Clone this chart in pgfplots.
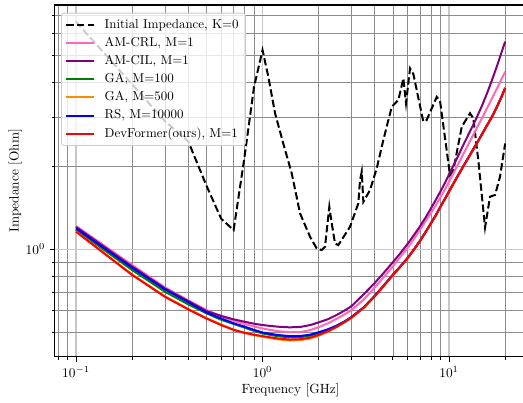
\documentclass[border=0pt]{standalone}
\usepackage{pgfplots}
\pgfplotsset{compat=1.18}
\definecolor{cpink}{RGB}{255,105,180}
\definecolor{cpurple}{RGB}{128,0,128}
\definecolor{cgreen}{RGB}{0,128,0}
\definecolor{corange}{RGB}{255,140,0}
\definecolor{cblue}{RGB}{0,0,255}
\definecolor{cred}{RGB}{255,0,0}
\pgfplotstableread{
f Z
0.1 6.63
0.2 3.94
0.3 2.90
0.4 2.45
0.5 1.70
0.6 1.29
0.7 1.174
0.8 2.15
0.9 3.85
1.0 5.24
1.074 4.20
1.167 3.10
1.292 2.41
1.434 1.88
1.589 1.349
1.798 1.11
1.952 1.008
2.077 0.994
2.163 1.022
2.281 1.425
2.350 1.241
2.447 1.051
2.549 1.036
2.946 1.207
3.264 1.466
3.333 1.779
3.404 1.906
3.472 1.485
3.771 1.637
4.096 1.961
4.443 2.48
4.93 3.27
5.35 3.46
5.69 4.14
5.88 3.37
6.18 4.50
6.44 4.29
7.28 2.89
7.59 2.93
8.59 3.55
8.95 3.43
10.12 1.855
10.55 1.93
11.70 2.77
12.96 3.10
13.50 2.97
14.35 2.10
15.60 1.199
16.59 1.549
17.65 1.571
18.77 1.83
20.0 2.41
}\initial
\pgfplotstableread{
f    crl   cil   ga100 ga500 rs    dev
0.1  1.214 1.204 1.177 1.160 1.191 1.158
0.2  0.878 0.867 0.842 0.811 0.858 0.808
0.3  0.729 0.722 0.703 0.677 0.717 0.674
0.4  0.655 0.650 0.633 0.609 0.645 0.607
0.5  0.604 0.599 0.588 0.565 0.592 0.563
0.6  0.574 0.575 0.557 0.535 0.563 0.533
0.7  0.552 0.559 0.538 0.513 0.541 0.512
0.8  0.538 0.548 0.522 0.499 0.526 0.500
0.9  0.527 0.539 0.508 0.490 0.512 0.492
1.0  0.518 0.533 0.497 0.484 0.501 0.486
1.2  0.507 0.526 0.486 0.4735 0.491 0.477
1.4  0.502 0.523 0.481 0.469 0.486 0.4725
1.6  0.503 0.525 0.482 0.4705 0.487 0.474
1.8  0.511 0.533 0.488 0.477 0.492 0.480
2.0  0.524 0.545 0.499 0.488 0.502 0.491
2.25 0.541 0.560 0.513 0.505 0.515 0.507
2.5  0.562 0.580 0.529 0.524 0.531 0.526
2.75 0.582 0.601 0.548 0.545 0.549 0.546
3    0.604 0.624 0.569 0.566 0.570 0.567
3.5  0.660 0.690 0.618 0.616 0.619 0.617
4    0.729 0.757 0.679 0.677 0.680 0.678
4.5  0.799 0.827 0.744 0.742 0.745 0.743
5    0.869 0.899 0.809 0.807 0.810 0.808
5.5  0.943 0.971 0.869 0.867 0.870 0.868
6    1.012 1.047 0.931 0.929 0.932 0.930
6.5  1.094 1.129 1.001 0.999 1.002 1.000
7    1.178 1.213 1.075 1.073 1.076 1.074
7.5  1.265 1.305 1.156 1.154 1.157 1.155
8    1.352 1.405 1.242 1.240 1.243 1.241
8.5  1.445 1.510 1.329 1.327 1.330 1.328
9    1.543 1.620 1.426 1.424 1.427 1.425
9.5  1.646 1.735 1.520 1.518 1.521 1.519
10   1.755 1.865 1.618 1.616 1.619 1.617
11   1.986 2.120 1.814 1.812 1.815 1.813
12   2.224 2.402 2.008 2.006 2.009 2.007
13   2.468 2.676 2.201 2.199 2.202 2.200
14   2.717 2.968 2.397 2.395 2.398 2.396
15   2.972 3.292 2.598 2.596 2.599 2.597
16   3.236 3.662 2.807 2.805 2.808 2.806
17   3.508 4.084 3.011 3.009 3.012 3.010
18   3.785 4.552 3.251 3.249 3.252 3.250
19   4.080 5.072 3.521 3.519 3.522 3.520
20   4.380 5.620 3.821 3.819 3.822 3.820
}\curves
\begin{document}
\begin{tikzpicture}
\begin{axis}[
  scale only axis,
  width=354pt, height=263.8pt,
  at={(0,0)}, anchor=south west,
  xmode=log, ymode=log,
  xmin=0.0767, xmax=26.06,
  ymin=0.4095, ymax=7.62,
  xtick={0.1,1,10}, ytick={1},
  minor xtick={0.08,0.09,0.2,0.3,0.4,0.5,0.6,0.7,0.8,0.9,2,3,4,5,6,7,8,9,20},
  minor ytick={0.5,0.6,0.7,0.8,0.9,2,3,4,5,6,7},
  grid=both,
  major grid style={black!22, line width=0.9pt},
  minor grid style={black!45, line width=0.5pt},
  tick align=outside, tick pos=left,
  major tick length=3.6pt, minor tick length=2.1pt,
  every tick/.style={black, line width=0.6pt},
  axis line style={line width=0.8pt},
  xlabel={Frequency [GHz]},
  ylabel={Impedance [Ohm]},
  x label style={at={(axis description cs:0.5,-0.0938)}, anchor=center},
  y label style={at={(axis description cs:-0.0831,0.5)}, anchor=center},
  legend cell align=left,
  legend style={at={(0,1)}, anchor=north west, xshift=4.9pt, yshift=-5.8pt,
    draw=black!20, line width=0.6pt, rounded corners=2pt,
    fill=white, fill opacity=0.8, draw opacity=1, text opacity=1,
    inner xsep=3pt, inner ysep=2pt, row sep=0pt,
    font=\fontsize{9.7}{11.5}\selectfont,
    nodes={text height=7pt, text depth=2pt, inner ysep=2.3pt}},
  legend image code/.code={\draw[#1] (0pt,0pt) -- (21pt,0pt); \path (25.9pt,0pt);},
]
\addplot[black, line width=1.5pt, dash pattern=on 5.55pt off 2.4pt] table[x=f, y=Z] {\initial};
\addlegendentry{Initial Impedance, K=0}
\addplot[cpink, line width=1.5pt] table[x=f, y=crl] {\curves};
\addlegendentry{AM-CRL, M=1}
\addplot[cpurple, line width=1.5pt] table[x=f, y=cil] {\curves};
\addlegendentry{AM-CIL, M=1}
\addplot[cgreen, line width=1.5pt] table[x=f, y=ga100] {\curves};
\addlegendentry{GA, M=100}
\addplot[corange, line width=1.5pt] table[x=f, y=ga500] {\curves};
\addlegendentry{GA, M=500}
\addplot[cblue, line width=1.5pt] table[x=f, y=rs] {\curves};
\addlegendentry{RS, M=10000}
\addplot[cred, line width=1.5pt] table[x=f, y=dev] {\curves};
\addlegendentry{DevFormer(ours), M=1}
\end{axis}
\pgfresetboundingbox
\useasboundingbox (-40.9pt,-34pt) rectangle (351.3pt,267.55pt);
\end{tikzpicture}
\end{document}
